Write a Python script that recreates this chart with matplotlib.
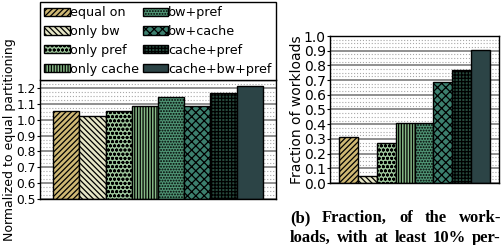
import numpy as np
import matplotlib
matplotlib.use("Agg")
import matplotlib.pyplot as plt
from matplotlib.ticker import MultipleLocator, FixedLocator

plt.rcParams['font.family'] = ['DejaVu Sans']
plt.rcParams['hatch.linewidth'] = 0.9

configs = ["equal on", "only bw", "only pref", "only cache",
           "bw+pref", "bw+cache", "cache+pref", "cache+bw+pref"]
normalized = [1.053, 1.025, 1.055, 1.085, 1.145, 1.087, 1.165, 1.215]
fraction = [0.31, 0.045, 0.275, 0.41, 0.41, 0.69, 0.77, 0.905]
left_ticks = [0.5, 0.6, 0.7, 0.8, 0.9, 1.0, 1.1, 1.2]
right_ticks = [0.0, 0.1, 0.2, 0.3, 0.4, 0.5, 0.6, 0.7, 0.8, 0.9, 1.0]

colors = ["#cfb874", "#e6e6c6", "#9cc49a", "#86b886",
          "#4f9474", "#3c7f6e", "#26493c", "#2c4446"]
hatches = ["//////", "\\\\\\\\\\\\", "oooo", "||||||", "......", "xxxx", "+++++", ""]

fig = plt.figure(figsize=(5.04, 2.45), dpi=100)
axL = fig.add_axes([40/504, (245-199)/245, 236/504, 119/245])
axR = fig.add_axes([330/504, (245-183)/245, 169/504, 147/245])

x = np.arange(len(configs))


def style(ax, ticks, fs):
    ax.set_axisbelow(True)
    ax.yaxis.set_major_locator(FixedLocator(ticks))
    ax.yaxis.set_minor_locator(MultipleLocator(0.025))
    ax.grid(which='major', axis='y', color='#8f8f8f', lw=1.4, ls='-')
    ax.grid(which='minor', axis='y', color='#a8a8a8', lw=0.8, ls=':')
    ax.set_xticks([])
    ax.set_xlim(-1, 8)
    ax.tick_params(axis='y', which='major', labelsize=fs, length=2, pad=1)
    ax.tick_params(axis='y', which='minor', length=0)
    ax.set_yticklabels([f"{t:.1f}" for t in ticks])
    for s in ax.spines.values():
        s.set_linewidth(1.0)
        s.set_color('black')


for i in range(len(configs)):
    axL.bar(x[i], normalized[i] - 0.5, bottom=0.5, width=1.0,
            color=colors[i], edgecolor='black', lw=1.0,
            hatch=hatches[i], label=configs[i])
    axR.bar(x[i], fraction[i], width=1.0, color=colors[i],
            edgecolor='black', lw=1.0, hatch=hatches[i])

axL.set_ylim(0.5, 1.25)
axR.set_ylim(0.0, 1.0)
style(axL, left_ticks, 8.8)
style(axR, right_ticks, 10)

axL.set_ylabel("Normalized to equal partitioning", fontsize=9, labelpad=0)
axR.set_ylabel("Fraction of workloads", fontsize=10, labelpad=0)

leg = axL.legend(ncol=2, loc='lower left', bbox_to_anchor=(0, 1, 1, 0.0),
                 mode='expand', borderaxespad=0, fontsize=9.2,
                 handlelength=2.0, handleheight=0.6, handletextpad=0.0,
                 labelspacing=0.45, borderpad=0.35, fancybox=False,
                 framealpha=1, edgecolor='black')
leg.get_frame().set_linewidth(1.0)

# caption (justified lines)
fig.canvas.draw()
renderer = fig.canvas.get_renderer()
lines = [(["(b)", "Fraction,", "of", "the", "work-"], 222),
         (["loads,", "with", "at", "least", "10%", "per-"], 242)]
x0, x1 = 290, 501
for words, ybase in lines:
    texts = []
    widths = []
    for w in words:
        t = fig.text(0, 1 - ybase/245, w, fontsize=12, fontweight='bold',
                     family='Liberation Serif', va='baseline', ha='left')
        bb = t.get_window_extent(renderer)
        texts.append(t)
        widths.append(bb.width)
    gap = ((x1 - x0) - sum(widths)) / (len(words) - 1)
    pos = x0
    for t, w in zip(texts, widths):
        t.set_x(pos / 504)
        pos += w + gap

fig.savefig("out.png", dpi=100)
